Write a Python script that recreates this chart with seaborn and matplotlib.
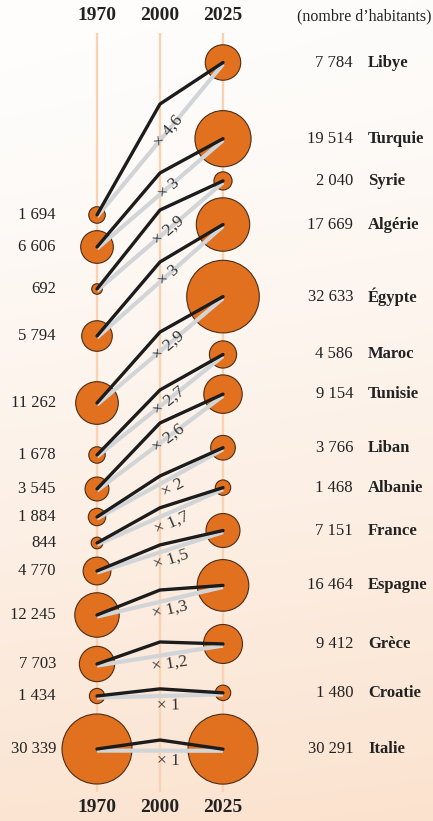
import numpy as np
import pandas as pd
import matplotlib
matplotlib.use("Agg")
import matplotlib.pyplot as plt
import seaborn as sns

# Population (thousands) by country
countries = ["Libye", "Turquie", "Syrie", "Algérie", "Égypte", "Maroc", "Tunisie",
             "Liban", "Albanie", "France", "Espagne", "Grèce", "Croatie", "Italie"]
pop_1970 = [1694, 6606, 692, 5794, 11262, 1678, 3545, 1884, 844, 4770, 12245, 7703, 1434, 30339]
pop_2000 = [5140, 13850, 1525, 12150, 22900, 3215, 6860, 2840, 1200, 6190, 15720, 9600, 1540, 33190]
pop_2025 = [7784, 19514, 2040, 17669, 32633, 4586, 9154, 3766, 1468, 7151, 16464, 9412, 1480, 30291]
years = ["1970", "2000", "2025"]

# Layout: vertical slot of each country (its 1970 level), column positions, log scale
row_slot = [215, 247, 289, 336, 403, 455, 489, 517, 543, 571, 615, 664, 696, 749]
col_x = [97, 160, 223]
LOG_SCALE = 100.0          # vertical px per unit of ln(growth)
S_PER_UNIT = 0.0837        # marker area (pt^2) per thousand inhabitants

ORANGE = "#E2711F"
EDGE = "#4a2c17"
INK = "#1c1c1c"
GREY_LINE = "#d2d5d8"
TEXT = "#222222"

sns.set_theme(style="white")
plt.rcParams["font.family"] = ["Liberation Serif", "DejaVu Serif"]

rows = []
for i, c in enumerate(countries):
    base = pop_1970[i]
    for j, p in enumerate([pop_1970[i], pop_2000[i], pop_2025[i]]):
        rows.append({"country": c, "year": years[j], "pop": p,
                     "x": col_x[j], "y": row_slot[i] - LOG_SCALE * np.log(p / base)})
df = pd.DataFrame(rows)

fig = plt.figure(figsize=(4.33, 8.21), dpi=100)
ax = fig.add_axes([0, 0, 1, 1])

# soft paper background: white at the top, warm peach at the bottom
H, W = 821, 433
yy, xx = np.mgrid[0:H, 0:W]
t = np.clip((yy / H) ** 1.3 * 0.95 + 0.08 * (xx / W) - 0.04, 0, 1)
top = np.array([254, 253, 252]) / 255
bot = np.array([251, 226, 206]) / 255
bg = top[None, None, :] * (1 - t[..., None]) + bot[None, None, :] * t[..., None]
ax.imshow(bg, extent=(0, W, H, 0), aspect="auto", zorder=0)

# column guides
ax.vlines(col_x, 33, 792, color="#f8d2b2", lw=1.7, zorder=1)

# circles for 1970 and 2025
ends = df[df["year"] != "2000"]
maxpop = max(max(pop_1970), max(pop_2025))
sns.scatterplot(data=ends, x="x", y="y", size="pop", sizes=(0, S_PER_UNIT * maxpop),
                size_norm=(0, maxpop), color=ORANGE, edgecolor=EDGE, linewidth=0.8,
                legend=False, ax=ax, zorder=2)

# straight grey line 1970 -> 2025, black path through 2000
for c in countries:
    d = df[df["country"] == c]
    y0 = d["y"].iloc[0]
    y2 = d["y"].iloc[2]
    ax.plot([col_x[0], col_x[2]], [y0 + 1.6, y2 + 1.6], color=GREY_LINE, lw=3.0,
            solid_capstyle="butt", zorder=3)
sns.lineplot(data=df, x="x", y="y", units="country", estimator=None, sort=False,
             color=INK, lw=2.4, ax=ax, zorder=4)
ax.set_xlim(0, 433)
ax.set_ylim(821, 0)
ax.axis("off")

# growth factor labels along the grey line
for i, c in enumerate(countries):
    y0 = row_slot[i]
    y2 = row_slot[i] - LOG_SCALE * np.log(pop_2025[i] / pop_1970[i])
    ratio = round(pop_2025[i] / pop_1970[i], 1)
    txt = f"{ratio:.1f}".replace(".", ",")
    if txt.endswith(",0"):
        txt = txt[:-2]
    dx = col_x[2] - col_x[0]
    ang = np.degrees(np.arctan2(y0 - y2, dx))
    ax_x = 168
    ay = y0 + (y2 - y0) * (ax_x - col_x[0]) / dx + 1.6
    off = 10 if ang < 32 else 1
    a = np.radians(ang)
    cx = ax_x + off * np.sin(a)
    cy = ay + off * np.cos(a)
    ax.text(cx, cy, f"× {txt}", rotation=ang, rotation_mode="anchor", ha="center",
            va="center", fontsize=12.5, color="#333333", zorder=5)

# value labels
for i, c in enumerate(countries):
    y0 = row_slot[i]
    y2 = row_slot[i] - LOG_SCALE * np.log(pop_2025[i] / pop_1970[i])
    ax.text(56, y0, f"{pop_1970[i]:,}".replace(",", " "), ha="right", va="center",
            fontsize=12, color=TEXT)
    ax.text(353, y2, f"{pop_2025[i]:,}".replace(",", " "), ha="right", va="center",
            fontsize=12, color=TEXT)
    ax.text(368, y2, c, ha="left", va="center", fontsize=12, fontweight="bold", color=TEXT)

# column headers, top and bottom
for x, yr in zip(col_x, years):
    ax.text(x, 16, yr, ha="center", va="center", fontsize=14, fontweight="bold", color=TEXT)
    ax.text(x, 808, yr, ha="center", va="center", fontsize=14, fontweight="bold", color=TEXT)
ax.text(364, 16, "(nombre d’habitants)", ha="center", va="center", fontsize=11.5, color=TEXT)

fig.savefig("out.png", dpi=100)
